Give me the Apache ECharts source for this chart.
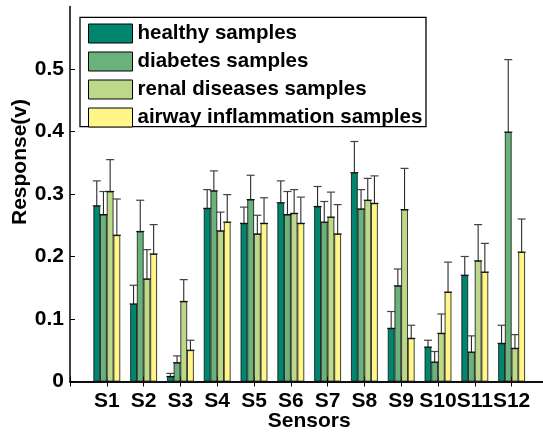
<!DOCTYPE html>
<html>
<head>
<meta charset="utf-8">
<script src="https://cdn.jsdelivr.net/npm/echarts@6/dist/echarts.min.js"></script>
<style>
  html, body { margin: 0; padding: 0; background: #fff; }
  #chart { width: 543px; height: 432px; }
</style>
</head>
<body>
<div id="chart"></div>
<script>
// Sensor responses (V) per sample group, with standard deviations.
const sensors = ['S1', 'S2', 'S3', 'S4', 'S5', 'S6', 'S7', 'S8', 'S9', 'S10', 'S11', 'S12'];

const healthy     = [0.281, 0.124, 0.008, 0.277, 0.253, 0.286, 0.280, 0.334, 0.085, 0.055, 0.170, 0.061];
const healthyErr  = [0.040, 0.030, 0.005, 0.030, 0.026, 0.035, 0.032, 0.050, 0.027, 0.011, 0.030, 0.029];

const diabetes    = [0.267, 0.240, 0.030, 0.305, 0.291, 0.267, 0.255, 0.276, 0.153, 0.031, 0.047, 0.399];
const diabetesErr = [0.037, 0.050, 0.011, 0.032, 0.039, 0.037, 0.033, 0.031, 0.027, 0.017, 0.026, 0.116];

const renal       = [0.304, 0.164, 0.128, 0.241, 0.236, 0.269, 0.263, 0.290, 0.275, 0.077, 0.193, 0.053];
const renalErr    = [0.051, 0.047, 0.035, 0.030, 0.030, 0.038, 0.040, 0.035, 0.066, 0.031, 0.058, 0.022];

const airway      = [0.234, 0.204, 0.050, 0.255, 0.253, 0.253, 0.236, 0.285, 0.069, 0.143, 0.175, 0.207];
const airwayErr   = [0.058, 0.047, 0.016, 0.044, 0.041, 0.042, 0.047, 0.044, 0.021, 0.048, 0.046, 0.053];

const groupNames  = ['healthy samples', 'diabetes samples', 'renal diseases samples', 'airway inflammation samples'];
const yTicks      = [0, 0.1, 0.2, 0.3, 0.4, 0.5];

const colors = ['#00866e', '#6bb17c', '#bdd888', '#fff68a'];
const FONT = '"Liberation Sans", Arial, Helvetica, sans-serif';
const GROUP_FRAC = 4 / 5.5;           // share of a category band covered by one bar group

// Axis runs from 0 to 13 with sensors placed at 1..12
const axisCats = [''].concat(sensors, ['']);
const pad = arr => [null].concat(arr, [null]);

const groups = [
  { values: healthy, errs: healthyErr },
  { values: diabetes, errs: diabetesErr },
  { values: renal, errs: renalErr },
  { values: airway, errs: airwayErr }
];

function barSeries(g, k) {
  return {
    name: groupNames[k],
    type: 'bar',
    data: pad(g.values),
    barWidth: (GROUP_FRAC / 4 * 100).toFixed(3) + '%',
    barGap: '0%',
    itemStyle: { color: colors[k], borderColor: '#111', borderWidth: 0.8 },
    emphasis: { disabled: true },
    z: 3
  };
}

function errorSeries(g, k) {
  return {
    type: 'custom',
    silent: true,
    z: 6,
    encode: { x: 0, y: 1 },
    data: g.values.map((v, i) => [i + 1, v, g.errs[i]]),
    renderItem(params, api) {
      const band = api.size([1, 0])[0];
      const w = band * GROUP_FRAC / 4;
      const base = api.coord([api.value(0), api.value(1)]);
      const top = api.coord([api.value(0), api.value(1) + api.value(2)]);
      const x = base[0] + (k - 1.5) * w;
      const half = w * 0.6;
      const style = { stroke: '#2a2a2a', lineWidth: 1.1 };
      return {
        type: 'group',
        children: [
          { type: 'line', shape: { x1: x, y1: base[1], x2: x, y2: top[1] }, style },
          { type: 'line', shape: { x1: x - half, y1: top[1], x2: x + half, y2: top[1] }, style: { stroke: '#444', lineWidth: 1.2 } },
          { type: 'line', shape: { x1: x - half, y1: base[1], x2: x + half, y2: base[1] }, style: { stroke: '#111', lineWidth: 1.2 } }
        ]
      };
    }
  };
}

const chart = echarts.init(document.getElementById('chart'), null, { renderer: 'canvas' });

const axisLineStyle = { color: '#000', width: 1.5 };
const labelStyle = { fontFamily: FONT, fontWeight: 'bold', fontSize: 21, color: '#000' };

chart.setOption({
  animation: false,
  backgroundColor: '#fff',
  grid: { left: 70, top: 6.5, width: 478.4, height: 375, outerBoundsMode: 'none', containLabel: false },
  legend: {
    data: groupNames,
    orient: 'vertical',
    left: 88,
    top: 23,
    padding: 0,
    itemWidth: 44,
    itemHeight: 19,
    itemGap: 7,
    icon: 'rect',
    itemStyle: { borderColor: '#000', borderWidth: 1 },
    textStyle: { fontFamily: FONT, fontWeight: 'bold', fontSize: 20.5, color: '#000', lineHeight: 19, padding: [0, 0, 0, 0] },
    selectedMode: false,
    z: 10
  },
  graphic: [
    {
      type: 'rect',
      z: 8,
      shape: { x: 80, y: 17.3, width: 346, height: 109.4 },
      style: { fill: '#fff', stroke: '#000', lineWidth: 1.3 }
    },
    {
      type: 'text',
      z: 8,
      x: 20,
      y: 162,
      rotation: Math.PI / 2,
      style: {
        text: 'Response(v)',
        fontFamily: FONT, fontWeight: 'bold', fontSize: 21, fill: '#000',
        align: 'center', verticalAlign: 'middle'
      }
    }
  ],
  xAxis: [
    {
      type: 'category',
      data: axisCats,
      boundaryGap: false,
      position: 'bottom',
      axisLine: { lineStyle: axisLineStyle },
      axisTick: { show: true, inside: true, length: 5, interval: 0, lineStyle: { color: '#000' } },
      axisLabel: { ...labelStyle, interval: 0, margin: 9, hideOverlap: false },
      name: 'Sensors',
      nameLocation: 'middle',
      nameGap: 29.5,
      nameMoveOverlap: false,
      nameTextStyle: { ...labelStyle }
    },
    {
      type: 'category',
      data: axisCats,
      boundaryGap: false,
      position: 'top',
      axisLine: { lineStyle: axisLineStyle },
      axisTick: { show: true, inside: true, length: 5, interval: 0, lineStyle: { color: '#000' } },
      axisLabel: { show: false }
    }
  ],
  yAxis: [
    {
      type: 'value',
      min: 0,
      max: 0.6,
      interval: 0.1,
      position: 'left',
      splitLine: { show: false },
      axisLine: { show: true, lineStyle: axisLineStyle },
      axisTick: { show: true, inside: true, length: 5, lineStyle: { color: '#000' } },
      axisLabel: {
        ...labelStyle, margin: 6, showMaxLabel: false,
        formatter: v => (yTicks.some(t => Math.abs(t - v) < 1e-9) ? String(+v.toFixed(1)) : '')
      }
    },
    {
      type: 'value',
      min: 0,
      max: 0.6,
      interval: 0.1,
      position: 'right',
      splitLine: { show: false },
      axisLine: { show: true, lineStyle: axisLineStyle },
      axisTick: { show: true, inside: true, length: 5, lineStyle: { color: '#000' } },
      axisLabel: { show: false }
    }
  ],
  series: groups.map(barSeries).concat(groups.map(errorSeries))
});
</script>
</body>
</html>
